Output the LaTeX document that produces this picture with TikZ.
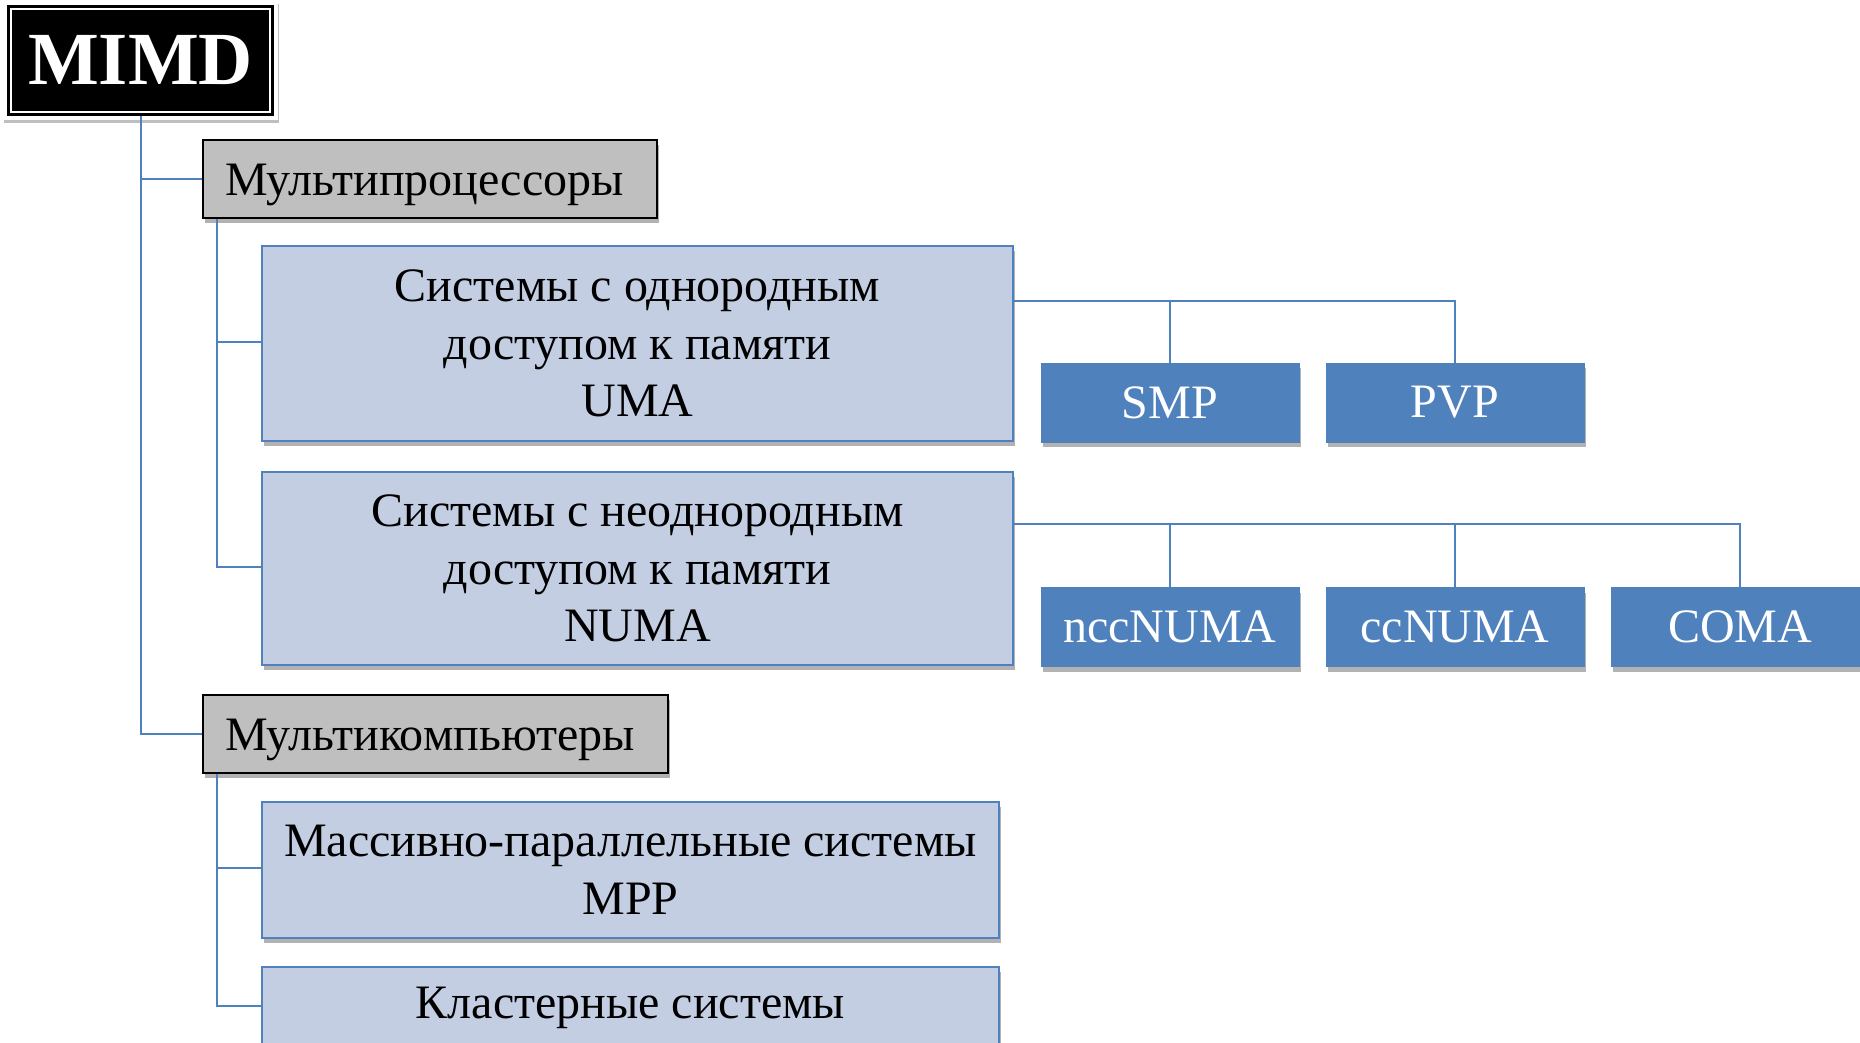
\documentclass[tikz,border=0pt]{standalone}
\usepackage{fontspec}
\setmainfont{Liberation Serif}
\usetikzlibrary{shadows,calc,backgrounds}
\definecolor{accent}{HTML}{4F81BD}
\definecolor{lightbox}{RGB}{196,206,227}
\definecolor{graybox}{HTML}{BFBFBF}
\begin{document}
\begin{tikzpicture}[x=1pt,y=-1pt,
  every node/.style={font=\fontsize{48}{57.5}\selectfont, inner sep=0pt},
  conn/.style={draw=accent,line width=2pt},
  sh/.style={drop shadow={shadow xshift=2pt,shadow yshift=-5pt,opacity=0.3,fill=black}},
  catbox/.style={draw=black,line width=2.5pt,fill=graybox,sh,minimum height=78pt,
    inner xsep=22pt,align=left,text height=33pt,text depth=0pt},
  sysbox/.style={draw=accent,line width=2pt,fill=lightbox,sh,align=center},
  leafbox/.style={draw=accent,line width=1pt,fill=accent,sh,text=white,
    minimum width=258pt,minimum height=79pt},
  mimdbox/.style={fill=black,draw=white,line width=1.5pt,text=white,
    minimum width=258pt,minimum height=102pt,
    font=\fontsize{75}{80}\selectfont\bfseries}
]
\clip (0,0) rectangle (1860,1042);

% root
\node[mimdbox] (mimd) at (140.5,60.25) {MIMD};
\begin{scope}[on background layer]
  \fill[white] (0,0) rectangle (1860,1042);
  \fill[white,drop shadow={shadow xshift=1pt,shadow yshift=-3pt,opacity=0.25,fill=black}]
    ([xshift=-7.5pt,yshift=8pt]mimd.north west) rectangle ([xshift=7.5pt,yshift=-8pt]mimd.south east);
  \draw[black,line width=3pt] ([xshift=-2pt,yshift=2pt]mimd.north west) rectangle ([xshift=2pt,yshift=-2pt]mimd.south east);
\end{scope}

% level 1
\node[catbox,text width=410pt] (mp) at (430,179) {Мультипроцессоры};
\node[catbox,text width=421pt] (mc) at (435.5,734) {Мультикомпьютеры};

% level 2
\node[sysbox,minimum width=751pt,minimum height=195pt] (uma) at (637.5,343.5)
  {Системы с однородным\\доступом к памяти\\UMA};
\node[sysbox,minimum width=751pt,minimum height=193pt] (numa) at (637.5,568.5)
  {Системы с неоднородным\\доступом к памяти\\NUMA};
\node[sysbox,minimum width=737pt,minimum height=136pt] (mpp) at (630.5,870)
  {Массивно-параллельные системы\\MPP};
\node[sysbox,minimum width=737pt,minimum height=81pt] (cl) at (630.5,1007.5)
  {Кластерные системы};

% leaves
\node[leafbox] (smp) at (1170,402.5) {SMP};
\node[leafbox] (pvp) at (1455,402.5) {PVP};
\node[leafbox] (ncc) at (1170,627) {nccNUMA};
\node[leafbox] (cc) at (1455,627) {ccNUMA};
\node[leafbox] (coma) at (1740,627) {COMA};

% connectors
\draw[conn] ([yshift=-4pt]mimd.south) |- (mp.west);
\draw[conn] ([yshift=-4pt]mimd.south) |- (mc.west);
\draw[conn] ([xshift=15pt]mp.south west) |- ([yshift=2pt]uma.west);
\draw[conn] ([xshift=15pt]mp.south west) |- ([yshift=2pt]numa.west);
\draw[conn] ([xshift=15pt]mc.south west) |- ([yshift=2pt]mpp.west);
\draw[conn] ([xshift=15pt]mc.south west) |- ([yshift=2pt]cl.west);

\coordinate (ub) at ([yshift=-56pt]uma.north east);
\draw[conn] (ub) -| (pvp.north);
\draw[conn] (smp.north) -- (smp.north |- ub);

\coordinate (nb) at ([yshift=-53pt]numa.north east);
\draw[conn] (nb) -| (coma.north);
\draw[conn] (ncc.north) -- (ncc.north |- nb);
\draw[conn] (cc.north) -- (cc.north |- nb);
\end{tikzpicture}
\end{document}
